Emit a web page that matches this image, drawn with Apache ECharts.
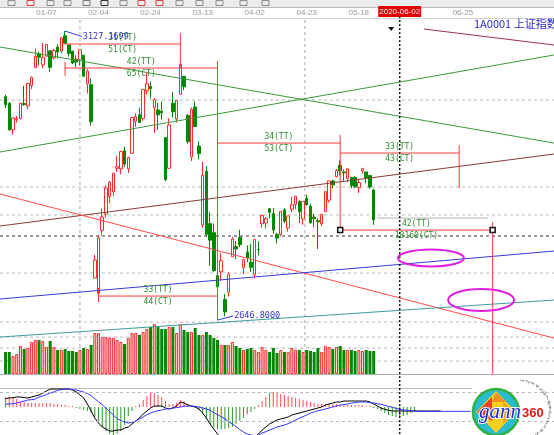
<!DOCTYPE html>
<html>
<head>
<meta charset="utf-8">
<title>1A0001 上证指数</title>
<script src="https://cdn.jsdelivr.net/npm/echarts/dist/echarts.min.js"></script>
<style>
html,body{margin:0;padding:0;background:#ffffff;}
#chart{width:554px;height:435px;}
</style>
</head>
<body>
<div id="chart"></div>
<script>
// ---------------- categories (trading days) ----------------
const tradingDates = [
 '12-20','12-23','12-24','12-25','12-26','12-27','12-30','12-31',
 '01-02','01-03','01-06','01-07','01-08','01-09','01-10','01-13','01-14','01-15','01-16','01-17','01-20','01-21','01-22','01-23',
 '02-03','02-04','02-05','02-06','02-07','02-10','02-11','02-12','02-13','02-14','02-17','02-18','02-19','02-20','02-21','02-24','02-25','02-26','02-27','02-28',
 '03-02','03-03','03-04','03-05','03-06','03-09','03-10','03-11','03-12','03-13','03-16','03-17','03-18','03-19','03-20','03-23','03-24','03-25','03-26','03-27','03-30','03-31',
 '04-01','04-02','04-03','04-07','04-08','04-09','04-10','04-13','04-14','04-15','04-16','04-17','04-20','04-21','04-22','04-23','04-24','04-27','04-28','04-29','04-30',
 '05-06','05-07','05-08','05-11','05-12','05-13','05-14','05-15','05-18','05-19','05-20','05-21','05-22'
];
const tickLabels = ['01-07','02-04','02-24','03-13','04-02','04-23','05-18','06-02','06-25'];
const highlightTick = '06-02';
const highlightText = '2020-06-02';
const titleText = '1A0001 上证指数';

// ---------------- price (OHLC) ----------------
const open = [
 3017.9,3006.9,2963.0,2980.0,2982.0,3006.8,3002.6,3036.4,3066.3,3089.0,
 3070.9,3085.5,3094.2,3082.5,3100.3,3094.0,3119.3,3104.0,3094.0,3080.4,
 3080.0,3087.0,3039.5,3037.9,2716.7,2691.0,2796.0,2823.0,2852.0,2860.0,
 2899.0,2898.0,2928.0,2898.0,2924.0,2977.0,2988.0,2982.0,3028.0,3035.0,
 3000.0,2996.0,2994.0,2950.0,2899.0,3007.0,2981.0,3022.0,3052.0,2987.0,
 2918.0,3001.0,2936.0,2804.7,2894.0,2807.0,2792.0,2721.0,2727.0,2681.0,
 2693.0,2752.0,2769.0,2784.0,2734.0,2760.0,2743.0,2722.0,2764.0,2807.0,
 2808.0,2832.0,2824.0,2789.0,2789.0,2830.0,2800.0,2831.0,2839.0,2844.0,
 2815.0,2849.0,2836.0,2818.0,2812.0,2807.0,2827.0,2846.0,2878.0,2885.0,
 2904.0,2893.0,2882.0,2884.0,2884.0,2867.0,2895.0,2893.0,2887.0,2863.0
];
const high = [
 3021.5,3009.0,2983.0,2986.0,3007.6,3036.1,3041.0,3051.7,3098.1,3093.0,
 3107.2,3105.4,3094.2,3097.7,3105.2,3115.6,3127.2,3104.0,3094.0,3086.9,
 3095.9,3087.0,3063.6,3048.6,2755.0,2787.6,2832.0,2871.0,2878.0,2892.0,
 2920.0,2926.9,2935.0,2918.0,2983.6,2990.6,3000.0,3030.2,3058.9,3043.0,
 3016.0,3008.0,3010.0,2951.0,2982.0,3026.0,3011.7,3074.3,3052.0,2989.0,
 3000.0,3010.0,2944.0,2910.0,2903.0,2826.0,2807.0,2728.0,2758.0,2690.0,
 2726.0,2785.0,2778.0,2797.0,2749.0,2771.0,2773.0,2781.0,2778.0,2822.0,
 2818.0,2832.0,2833.0,2792.0,2828.0,2833.0,2820.0,2852.0,2852.6,2846.0,
 2844.0,2855.0,2840.0,2823.0,2816.0,2823.0,2861.0,2878.0,2880.0,2898.0,
 2912.0,2897.0,2898.0,2884.0,2886.0,2882.0,2900.0,2893.0,2888.0,2865.0
];
const low = [
 2999.0,2962.0,2955.0,2975.0,2980.0,3003.0,2997.0,3030.5,3066.3,3070.0,
 3065.3,3084.3,3059.1,3080.0,3081.6,3090.2,3105.3,3084.6,3072.0,3067.0,
 3069.5,3051.0,3023.3,2970.0,2716.7,2685.3,2788.0,2817.0,2841.0,2853.0,
 2893.0,2889.0,2901.0,2891.0,2924.0,2968.0,2974.0,2978.0,3022.0,3015.0,
 2958.0,2963.0,2980.0,2878.0,2899.0,2983.0,2975.0,3022.0,3029.0,2940.0,
 2911.0,2968.0,2914.0,2800.0,2786.0,2737.0,2727.0,2646.8,2712.0,2653.0,
 2686.0,2752.0,2748.0,2768.0,2723.0,2743.0,2727.0,2716.0,2754.0,2800.0,
 2799.0,2816.0,2790.0,2774.0,2786.0,2808.0,2794.0,2826.0,2831.0,2808.0,
 2805.0,2837.0,2807.0,2801.0,2765.0,2803.0,2827.0,2842.0,2866.0,2884.0,
 2887.0,2878.0,2876.0,2866.0,2866.0,2858.0,2890.0,2874.0,2865.0,2805.0
];
const close = [
 3004.9,2962.8,2982.7,2981.9,3007.4,3005.0,3040.0,3050.1,3085.2,3083.8,
 3083.4,3104.8,3066.9,3094.9,3092.3,3115.6,3106.8,3090.0,3074.1,3075.5,
 3095.8,3052.1,3060.8,2976.5,2746.6,2783.3,2818.1,2866.5,2876.0,2890.5,
 2901.7,2926.9,2906.1,2917.0,2983.6,2985.0,2975.4,3030.2,3039.7,3031.2,
 3013.1,2987.9,2991.3,2880.3,2970.9,2992.9,3011.7,3071.7,3034.5,2943.3,
 2996.8,2968.5,2923.5,2887.4,2789.3,2779.6,2728.8,2702.1,2745.6,2660.2,
 2722.4,2781.6,2764.9,2772.2,2747.2,2750.3,2734.5,2780.6,2764.0,2820.8,
 2815.4,2825.9,2796.6,2783.1,2827.3,2811.2,2819.9,2838.5,2852.6,2827.0,
 2844.0,2838.5,2808.5,2815.5,2810.0,2822.4,2860.1,2878.1,2871.5,2895.3,
 2894.8,2891.6,2898.1,2870.3,2868.5,2875.4,2898.6,2883.7,2867.9,2813.8
];

// ---------------- volume ----------------
const volume = [
 220,220,180,200,280,250,260,320,340,340,
 330,270,330,270,240,240,250,230,230,220,
 240,260,250,290,410,410,370,370,360,360,
 340,320,300,360,410,410,390,420,450,470,
 500,470,450,450,470,470,410,500,440,420,
 420,460,390,390,420,390,360,340,290,290,
 290,320,280,260,240,250,260,240,220,270,
 240,220,260,210,240,220,220,260,240,240,
 220,240,230,220,260,220,280,270,250,270,
 280,240,240,240,230,240,230,240,230,230
];

// ---------------- MACD ----------------
const dif = [
 25,27,28,30,30,28,27,30,33,36,
 42,48,54,54,54,54,54,54,51,45,
 36,27,9,-12,-33,-48,-60,-66,-72,-72,
 -69,-69,-63,-60,-51,-42,-33,-21,-12,-3,
 3,3,3,-3,-6,-3,3,15,12,6,
 3,0,-6,-18,-33,-51,-66,-81,-93,-105,
 -111,-114,-117,-117,-114,-108,-99,-90,-81,-69,
 -60,-51,-45,-39,-36,-33,-30,-24,-21,-18,
 -15,-12,-9,-6,-3,0,6,9,12,15,
 15,18,18,18,18,18,18,18,15,9
];
const difProjection = [3,-3,-7,-10,-12,-12,-12,-12,-12,-12,-12,-12,-12,-12,-12,-12,-12,-12];
const dea = [
 8,9,10,12,15,18,21,22,24,30,
 33,37,42,45,50,52,54,54,52,51,
 48,45,40,34,25,16,7,-3,-14,-24,
 -35,-41,-45,-48,-46,-42,-36,-30,-23,-18,
 -14,-11,-9,-6,-5,-3,-2,0,2,3,
 3,2,0,-3,-6,-10,-17,-23,-29,-36,
 -44,-51,-59,-68,-75,-81,-84,-86,-84,-78,
 -74,-69,-65,-60,-57,-54,-50,-45,-39,-33,
 -29,-24,-18,-15,-11,-9,-6,-3,0,3,
 6,7,9,12,13,15,15,15,13,12
];
const deaProjection = [10,8,5,2,-1,-4,-7,-9,-10,-11,-13,-13,-13,-13,-13,-13,-13,-13,-13,-13,-13,-13,-13,-13,-13,-13];
const macdHist = [
 30,30,27,24,15,15,12,12,12,12,
 12,12,12,9,9,6,6,3,3,-3,
 -6,-9,-12,-18,-30,-45,-60,-72,-81,-84,
 -81,-72,-54,-27,-12,3,9,21,33,45,
 42,36,30,18,9,9,12,21,18,9,
 3,-3,-9,-21,-36,-51,-60,-66,-66,-66,
 -63,-60,-51,-42,-33,-21,-15,-6,6,18,
 30,42,45,42,39,36,33,30,27,24,
 21,18,15,12,9,9,9,9,9,9,
 6,9,6,6,6,6,6,3,3,-3
];
const macdHistProjection = [-6,-12,-18,-24,-27,-30,-30,-27,-24,-18,-12];

// ---------------- drawn analysis objects (data coordinates: [day index, price]) ----------------
const trendGreenDown = [[-0.5, 3100.6], [148.5, 2941.0]];
const trendGreenUp   = [[-0.5, 2926.1], [148.5, 3087.3]];
const trendBrown     = [[-0.5, 2803.1], [148.5, 2922.7]];
const trendMaroon    = [[113.5, 3130.5], [148.5, 3103.9]];
const trendRed       = [[-0.5, 2856.3], [148.5, 2616.9]];
const trendBlue      = [[-0.5, 2681.8], [148.5, 2761.5]];
const trendTeal      = [[-0.5, 2618.6], [148.5, 2680.1]];
const recentLowLine  = [[100.9, 2816.4], [130.8, 2816.4]];
// time spans: [startDay, endDay, price, TT label, CT label]
const gannSpans = [
 [17, 48, 3105.6, '31(TT)', '51(CT)'],
 [17, 58, 3065.7, '42(TT)', '65(CT)'],
 [58, 91, 2941.0, '34(TT)', '53(CT)'],
 [91, 123, 2924.4, '33(TT)', '43(CT)'],
 [91, 132, 2796.4, '42(TT)', '18160(CT)'],
 [26, 58, 2686.7, '33(TT)', '44(CT)']
];
// vertical time marks: [day, priceTop, priceBottom]
const gannVerticals = [
 [48, 3123.8, 3065.7],
 [17, 3075.6, 3052.4],
 [58, 3077.0, 2646.8],
 [91, 2954.3, 2793.0],
 [123, 2937.7, 2866.0],
 [132, 2809.7, 2557.0],
 [26, 2700.0, 2676.8]
];
const spanHandles = [[91, 2796.4], [132, 2796.4]];
// extreme price labels: [day, price, labelDay, labelPrice, text]
const extremeLabels = [
 [17, 3127.17, 21.5, 3118.0, '3127.1699'],
 [58, 2646.8, 62.2, 2653.5, '2646.8000']
];
const grayLevels = [3012.5, 2867.9, 2821.4, 2725.0, 2643.5, 2618.6, 2600.3, 2578.7];
const blackLevel = 2786.5;
const dateGuides = [21, 81.5];
const forecastDay = 107;
const ellipseCenters = [[115.4, 2750.0], [128.9, 2680.1]];
const markerTriangle = [104.7, 3130.5];

// ---------------- build ----------------
const pad = n => (n < 10 ? '0' : '') + n;
const TOTAL = 149;
const futureDates = [];
for (let d = new Date(2020, 4, 25); 1 + tradingDates.length + futureDates.length < TOTAL; d.setDate(d.getDate() + 1)) {
  const w = d.getDay();
  if (w !== 0 && w !== 6) futureDates.push(pad(d.getMonth() + 1) + '-' + pad(d.getDate()));
}
const categories = ['12-19'].concat(tradingDates, futureDates);

const UP = '#ff2a2a', DOWN = '#008800';
const candleData = ['-'].concat(open.map((o, i) => [o, close[i], low[i], high[i]]));
const volData = ['-'].concat(volume.map((v, i) => {
  const up = close[i] >= open[i];
  return { value: v, itemStyle: up ? { color: '#ffd4d4', borderColor: UP, borderWidth: 1 } : { color: DOWN, borderColor: DOWN, borderWidth: 0 } };
}));
const histData = ['-'].concat(macdHist.concat(macdHistProjection).map(v => ({ value: v, itemStyle: { color: v >= 0 ? '#ff4c4c' : '#229922' } })));
const difData = ['-'].concat(dif, difProjection);
const deaData = ['-'].concat(dea, deaProjection);

const PMAX = 3145.5, PMIN = 2617;

function seg(points, color, width, type, z) {
  return { type: 'line', xAxisIndex: 1, yAxisIndex: 0, data: points, symbol: 'none', clip: false, silent: true,
    lineStyle: { color: color, width: width, type: type || 'solid' }, z: z || 3 };
}

const series = [];
grayLevels.forEach(p => series.push(seg([[-0.5, p], [148.5, p]], '#b8b8b8', 1, [3, 3], 1)));
series.push(seg([[-0.5, blackLevel], [148.5, blackLevel]], '#333333', 1, [3, 3], 1));
dateGuides.forEach(x => series.push(seg([[x, PMAX], [x, 2557]], '#aaaaaa', 1, [3, 3], 1)));

series.push({
  type: 'candlestick', xAxisIndex: 0, yAxisIndex: 0, data: candleData, barWidth: 3, z: 2, silent: true,
  itemStyle: { color: '#ffffff', color0: DOWN, borderColor: UP, borderColor0: DOWN, borderWidth: 1 }
});

series.push(seg(trendGreenDown, '#3c9a3c', 1));
series.push(seg(trendGreenUp, '#3c9a3c', 1));
series.push(seg(trendBrown, '#8c3a3a', 1));
series.push(seg(trendMaroon, '#a0304a', 1));
series.push(seg(trendRed, '#ff4a4a', 1));
series.push(seg(trendBlue, '#3a3ad8', 1));
series.push(seg(trendTeal, '#3c9c9c', 1));
series.push(seg(recentLowLine, '#b4b4b4', 1));
gannSpans.forEach(s => series.push(seg([[s[0], s[2]], [s[1], s[2]]], '#ff3a3a', 1, 'solid', 4)));
gannVerticals.forEach(v => series.push(seg([[v[0], v[1]], [v[0], v[2]]], '#ff3a3a', 1, 'solid', 4)));
extremeLabels.forEach(e => series.push(seg([[e[0], e[1]], [e[2], e[3]]], '#3a3ad8', 1, 'solid', 4)));
series.push(seg([[forecastDay, 3152], [forecastDay, 2455.8]], '#111111', 1.5, [2, 2], 6));

series.push({ type: 'bar', xAxisIndex: 2, yAxisIndex: 1, data: volData, barWidth: 3, silent: true, z: 2 });

series.push({ type: 'bar', xAxisIndex: 3, yAxisIndex: 2, data: histData, barWidth: 1, silent: true, z: 2,
  markLine: { symbol: 'none', silent: true, label: { show: false }, animation: false,
    lineStyle: { color: '#b8b8b8', type: [3, 3], width: 1 }, data: [{ yAxis: 45 }, { yAxis: -42 }] } });
series.push({ type: 'line', xAxisIndex: 3, yAxisIndex: 2, data: difData, symbol: 'none', silent: true, z: 3,
  lineStyle: { color: '#000000', width: 1 } });
series.push({ type: 'line', xAxisIndex: 3, yAxisIndex: 2, data: deaData, symbol: 'none', silent: true, z: 3,
  lineStyle: { color: '#3434ff', width: 1 } });

const hiddenCat = (g) => ({ type: 'category', gridIndex: g, data: categories, boundaryGap: true, show: false });

const option = {
  animation: false,
  backgroundColor: '#ffffff',
  title: { text: titleText, left: 474, top: 18, padding: 0,
    textStyle: { color: '#2828c8', fontSize: 11, fontWeight: 'normal', fontFamily: '"Noto Sans CJK SC", sans-serif' } },
  grid: [
    { left: 0, right: 0, top: 20, height: 318, outerBoundsMode: 'none' },
    { left: 0, right: 0, top: 322, height: 52, outerBoundsMode: 'none' },
    { left: 0, right: 0, top: 388, height: 47, outerBoundsMode: 'none' }
  ],
  xAxis: [
    { type: 'category', gridIndex: 0, data: categories, boundaryGap: true, position: 'top',
      axisLine: { show: false }, axisTick: { show: false }, splitLine: { show: false },
      axisLabel: {
        show: true, margin: 3, color: '#9a9a9a', fontSize: 8, fontFamily: '"Liberation Sans", Arial, sans-serif',
        interval: (i, v) => tickLabels.indexOf(v) >= 0,
        formatter: v => v === highlightTick ? '{hl|' + highlightText + '}' : v,
        rich: { hl: { backgroundColor: '#e00000', color: '#ffffff', fontSize: 8, padding: [2, 1, 1, 1],
          fontFamily: '"Liberation Sans", Arial, sans-serif' } }
      } },
    { type: 'value', gridIndex: 0, min: -0.5, max: 148.5, show: false },
    hiddenCat(1),
    hiddenCat(2)
  ],
  yAxis: [
    { type: 'value', gridIndex: 0, min: PMIN, max: PMAX, show: false, splitLine: { show: false } },
    { type: 'value', gridIndex: 1, min: 0, max: 520, show: false, splitLine: { show: false } },
    { type: 'value', gridIndex: 2, min: -84, max: 57, show: false, splitLine: { show: false } }
  ],
  series: series
};

const chart = echarts.init(document.getElementById('chart'), null, { renderer: 'canvas', width: 554, height: 435 });
chart.setOption(option);

// ---------------- overlay graphics (positions through the chart's own scales) ----------------
const px = x => chart.convertToPixel({ xAxisIndex: 1 }, x);
const py = y => chart.convertToPixel({ yAxisIndex: 0 }, y);
const G = [];
// toolbar strip
G.push({ type: 'rect', shape: { x: 0, y: 0, width: 554, height: 7 }, style: { fill: '#ececec' }, z: 0 });
G.push({ type: 'line', shape: { x1: 0, y1: 7.5, x2: 554, y2: 7.5 }, style: { stroke: '#b8b8b8', lineWidth: 1 } });
G.push({ type: 'line', shape: { x1: 0, y1: 18.5, x2: 554, y2: 18.5 }, style: { stroke: '#d0d0d0', lineWidth: 1 } });
[[8, '#8a8a8a'], [27, '#d04040'], [47, '#8a8a8a'], [64, '#8a8a8a'], [83, '#777'], [101, '#333'], [120, '#8a8a8a'],
 [138, '#d04040'], [156, '#d04040'], [176, '#8a8a8a'], [196, '#8a8a8a'], [216, '#8a8a8a'], [240, '#8a8a8a'], [262, '#8a8a8a']]
 .forEach(t => G.push({ type: 'rect', shape: { x: t[0], y: 0.5, width: 7, height: 5 }, style: { fill: 'none', stroke: t[1], lineWidth: 1 } }));
// panel frame lines
G.push({ type: 'line', shape: { x1: 0, y1: 374.5, x2: 554, y2: 374.5 }, style: { stroke: '#b0b0b0', lineWidth: 1 } });
G.push({ type: 'line', shape: { x1: 0, y1: 388.5, x2: 472, y2: 388.5 }, style: { stroke: '#bdbdbd', lineWidth: 1 } });

const GREEN_TXT = '#2e8b2e';
const monoFont = '8px "DejaVu Sans Mono", monospace';
gannSpans.forEach(s => {
  const x = px((s[0] + s[1]) / 2), y = py(s[2]);
  G.push({ type: 'text', x: x, y: y - 6, z: 20, style: { text: s[3], fill: GREEN_TXT, font: monoFont, align: 'center', verticalAlign: 'middle' } });
  G.push({ type: 'text', x: x, y: y + 6, z: 20, style: { text: s[4], fill: GREEN_TXT, font: monoFont, align: 'center', verticalAlign: 'middle' } });
});
extremeLabels.forEach(e => {
  G.push({ type: 'text', x: px(e[2]) + 1, y: py(e[3]), z: 21,
    style: { text: e[4], fill: '#3434d0', font: '8.5px "DejaVu Sans Mono", monospace', align: 'left', verticalAlign: 'middle' } });
});
spanHandles.forEach(h => {
  G.push({ type: 'rect', z: 22, shape: { x: px(h[0]) - 2.5, y: py(h[1]) - 2.5, width: 5, height: 5 },
    style: { fill: '#ffffff', stroke: '#111111', lineWidth: 1.5 } });
});
const ellipseRadii = [[33, 8.5], [33, 11]];
ellipseCenters.forEach((c, i) => {
  G.push({ type: 'ellipse', z: 22, shape: { cx: px(c[0]), cy: py(c[1]), rx: ellipseRadii[i][0], ry: ellipseRadii[i][1] },
    style: { fill: 'none', stroke: '#e020e0', lineWidth: 2 } });
});
{
  const tx = px(markerTriangle[0]), ty = py(markerTriangle[1]);
  G.push({ type: 'polygon', z: 22, shape: { points: [[tx - 3, ty - 2], [tx + 3, ty - 2], [tx, ty + 2]] }, style: { fill: '#111' } });
}
// gann360 logo
G.push({ type: 'circle', z: 30, shape: { cx: 496, cy: 412, r: 23 }, style: { fill: '#27bcd0', stroke: '#33b040', lineWidth: 2.5 } });
G.push({ type: 'polygon', z: 31, shape: { points: [[496, 391], [516, 412], [496, 433], [476, 412]] }, style: { fill: '#f6cf1a' } });
G.push({ type: 'polygon', z: 32, shape: { points: [[477, 412], [492, 397], [492, 421]] }, style: { fill: '#e8412a' } });
G.push({ type: 'polygon', z: 32, shape: { points: [[496, 392], [506, 402], [492, 402]] }, style: { fill: '#f09020' } });
G.push({ type: 'polygon', z: 32, shape: { points: [[515, 412], [503, 402], [503, 424]] }, style: { fill: '#f4a020' } });
G.push({ type: 'text', z: 34, x: 479, y: 412, style: { text: 'gann', fill: '#1f2fcf', stroke: '#ffffff', lineWidth: 2,
  font: 'italic 21px "Liberation Serif", "DejaVu Serif", serif', align: 'left', verticalAlign: 'middle' } });
G.push({ type: 'text', z: 34, x: 522, y: 413, style: { text: '360', fill: '#e01818', stroke: '#ffffff', lineWidth: 1.5,
  font: 'bold 13px "Liberation Sans", Arial, sans-serif', align: 'left', verticalAlign: 'middle' } });
for (let k = 0; k < 18; k++) {
  const a = (-80 + k * 9.5) * Math.PI / 180;
  G.push({ type: 'text', z: 33, x: 517 + 33 * Math.cos(a), y: 410 + 30 * Math.sin(a), rotation: -a,
    style: { text: String((k + 1) % 10), fill: '#555', font: '5px "DejaVu Sans", sans-serif', align: 'center', verticalAlign: 'middle' } });
}
chart.setOption({ graphic: G });
</script>
</body>
</html>
